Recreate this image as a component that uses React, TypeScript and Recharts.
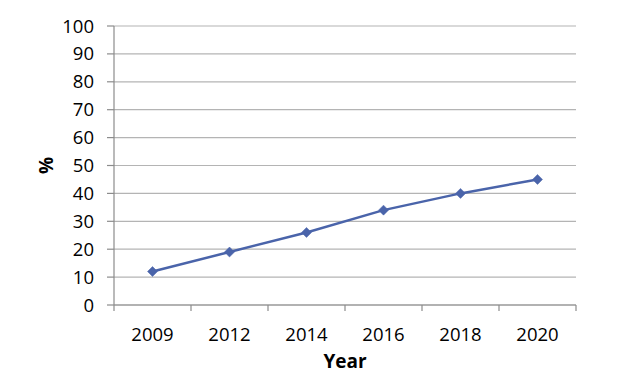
import React from 'react';
import { LineChart, Line, XAxis, YAxis, CartesianGrid, Label } from 'recharts';

const years: string[] = ['2009', '2012', '2014', '2016', '2018', '2020'];
const percentValues: number[] = [12, 19, 26, 34, 40, 45];
const yTicks: number[] = [0, 10, 20, 30, 40, 50, 60, 70, 80, 90, 100];

const data = years.map((year, i) => ({ year, value: percentValues[i] }));

const FONT = '"Open Sans", sans-serif';
const LINE_COLOR = '#4a64aa';
const AXIS_COLOR = '#8c8c8c';

const Diamond = (props: any) => {
  const { cx, cy } = props;
  if (cx == null || cy == null) return null;
  const r = 5;
  return (
    <path
      d={`M${cx},${cy - r} L${cx + r},${cy} L${cx},${cy + r} L${cx - r},${cy} Z`}
      fill={LINE_COLOR}
      stroke={LINE_COLOR}
      strokeWidth={0.5}
    />
  );
};

const XTick = (props: any) => {
  const { x, y, width, visibleTicksCount, index, payload } = props;
  const band = width / visibleTicksCount;
  const left = x - band / 2;
  const right = x + band / 2;
  const tickLen = 6;
  return (
    <g>
      <line x1={left} y1={y} x2={left} y2={y + tickLen} stroke={AXIS_COLOR} strokeWidth={1.2} />
      {index === visibleTicksCount - 1 && (
        <line x1={right} y1={y} x2={right} y2={y + tickLen} stroke={AXIS_COLOR} strokeWidth={1.2} />
      )}
      <text
        x={x}
        y={y + 28}
        textAnchor="middle"
        dominantBaseline="central"
        fontFamily={FONT}
        fontSize={18.5}
        fill="#000"
      >
        {payload.value}
      </text>
    </g>
  );
};

const YTitle = (props: any) => {
  const vb = props.viewBox || {};
  const x = (vb.x ?? 0) + 46;
  const y = (vb.y ?? 0) + (vb.height ?? 0) / 2;
  return (
    <text
      x={x}
      y={y}
      transform={`rotate(-90, ${x}, ${y})`}
      textAnchor="middle"
      dominantBaseline="central"
      fontFamily={FONT}
      fontWeight="bold"
      fontSize={19}
      fill="#000"
    >
      %
    </text>
  );
};

export default function App() {
  return (
    <div style={{ position: 'absolute', left: 0, top: 0, width: 640, height: 387, background: '#fff' }}>
      <LineChart
        width={640}
        height={387}
        data={data}
        margin={{ top: 26, right: 64, bottom: 0, left: 0 }}
      >
        <CartesianGrid vertical={false} stroke="#b4b4b4" strokeWidth={1.2} />
        <XAxis
          dataKey="year"
          scale="band"
          height={82}
          tickSize={0}
          tickMargin={0}
          tick={<XTick />}
          axisLine={{ stroke: AXIS_COLOR, strokeWidth: 1.2 }}
          tickLine={false}
          interval={0}
        >
          <Label
            value="Year"
            position="insideBottom"
            offset={19}
            style={{ fontFamily: FONT, fontSize: 19, fontWeight: 'bold', fill: '#000' }}
          />
        </XAxis>
        <YAxis
          width={114}
          domain={[0, 100]}
          ticks={yTicks}
          interval={0}
          tickSize={7}
          tickMargin={13}
          tick={{ fontFamily: FONT, fontSize: 18.5, fill: '#000' }}
          axisLine={{ stroke: AXIS_COLOR, strokeWidth: 1.2 }}
          tickLine={{ stroke: AXIS_COLOR, strokeWidth: 1.2 }}
        >
          <Label content={<YTitle />} />
        </YAxis>
        <Line
          type="linear"
          dataKey="value"
          stroke={LINE_COLOR}
          strokeWidth={2.5}
          dot={<Diamond />}
          activeDot={false}
          isAnimationActive={false}
        />
      </LineChart>
    </div>
  );
}
